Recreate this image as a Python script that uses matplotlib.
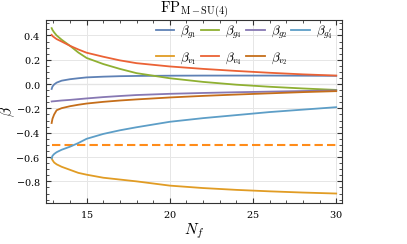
import numpy as np
import matplotlib
matplotlib.use("Agg")
import matplotlib.pyplot as plt
from matplotlib.ticker import MultipleLocator

plt.rcParams['mathtext.fontset'] = 'cm'
plt.rcParams['font.family'] = 'serif'
plt.rcParams['font.serif'] = ['DejaVu Serif']
plt.rcParams['axes.formatter.use_mathtext'] = True

# values
nf = [12.9, 12.95, 13.05, 13.2, 13.5, 14, 14.5, 15, 16, 17, 18, 20, 22, 24, 26, 28, 30]
beta_g1 = [-0.04, -0.02, -0.003, 0.012, 0.028, 0.04, 0.048, 0.055, 0.061, 0.065, 0.067,
           0.069, 0.07, 0.07, 0.07, 0.069, 0.068]
beta_g4 = [0.46, 0.445, 0.425, 0.40, 0.365, 0.315, 0.26, 0.215, 0.165, 0.125, 0.09,
           0.048, 0.018, -0.005, -0.022, -0.036, -0.048]
beta_g2 = [-0.143, -0.142, -0.141, -0.139, -0.135, -0.13, -0.124, -0.118, -0.107, -0.098,
           -0.09, -0.08, -0.073, -0.067, -0.062, -0.057, -0.052]
beta_g4p = [-0.61, -0.59, -0.575, -0.56, -0.54, -0.515, -0.485, -0.45, -0.41, -0.38,
            -0.355, -0.31, -0.28, -0.255, -0.23, -0.21, -0.19]
beta_v1 = [-0.61, -0.625, -0.645, -0.66, -0.68, -0.705, -0.73, -0.745, -0.77, -0.785,
           -0.8, -0.835, -0.855, -0.87, -0.882, -0.892, -0.9]
beta_v4 = [0.405, 0.395, 0.385, 0.37, 0.35, 0.315, 0.285, 0.258, 0.225, 0.195, 0.172,
           0.145, 0.125, 0.108, 0.093, 0.08, 0.07]
beta_v2 = [-0.32, -0.285, -0.25, -0.215, -0.198, -0.182, -0.17, -0.16, -0.146, -0.135,
           -0.126, -0.11, -0.097, -0.086, -0.076, -0.066, -0.058]
dashed_level = -0.5

series = [
    (beta_g1, r'$\beta_{g_1}$', '#5E81B5'),
    (beta_v1, r'$\beta_{v_1}$', '#E19C24'),
    (beta_g4, r'$\beta_{g_4}$', '#8FB032'),
    (beta_v4, r'$\beta_{v_4}$', '#EB6235'),
    (beta_g2, r'$\beta_{g_2}$', '#8778B3'),
    (beta_v2, r'$\beta_{v_2}$', '#C56E1A'),
    (beta_g4p, r"$\beta_{g_4^{\prime}}$", '#5D9EC7'),
]

fig = plt.figure(figsize=(4.07, 2.44), dpi=100)
ax = fig.add_axes([0.113, 0.167, 0.727, 0.751])

ax.axhline(0, color='#aaaaaa', lw=0.8, zorder=1)
ax.plot([nf[0], nf[-1]], [dashed_level, dashed_level], color='#FF8C1A', lw=1.5,
        ls=(0, (4, 2)), zorder=2)
for vals, lab, col in series:
    ax.plot(nf, vals, color=col, lw=1.3, label=lab, zorder=3)

ax.set_xlim(12.56, 30.34)
ax.set_ylim(-0.98, 0.527)
ax.xaxis.set_major_locator(MultipleLocator(5))
ax.xaxis.set_minor_locator(MultipleLocator(1))
ax.yaxis.set_major_locator(MultipleLocator(0.2))
ax.yaxis.set_minor_locator(MultipleLocator(0.05))
ax.grid(True, which='major', color='#e6e6e6', lw=0.7, zorder=0)
ax.tick_params(which='both', direction='in', top=True, right=True, color='#333333',
               labelsize=7, pad=4)
ax.tick_params(which='major', length=3.5)
ax.tick_params(which='minor', length=2)
for s in ax.spines.values():
    s.set_color('#333333')

ax.set_xlabel(r'$N_f$', fontsize=11, labelpad=1)
ax.set_ylabel(r'$\beta$', fontsize=11)
ax.yaxis.set_label_coords(-0.097, 0.5)
ax.set_title(r'$\mathrm{FP}_{\mathrm{M-SU(4)}}$', fontsize=10.5, pad=3)

ax.legend(ncol=4, loc='upper right', bbox_to_anchor=(1.0, 1.03), frameon=False,
          fontsize=9.5, handlelength=1.4, handletextpad=0.45, columnspacing=0.3,
          labelspacing=0.7, borderpad=0.2)

fig.savefig('out.png', dpi=100)
